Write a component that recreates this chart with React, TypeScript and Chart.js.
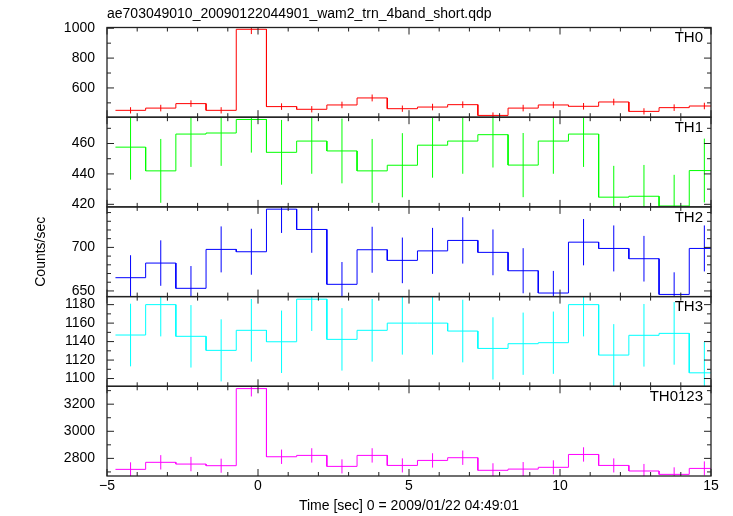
import React, { useEffect, useRef } from 'react';
import { Chart, registerables } from 'chart.js';

Chart.register(...registerables);

// ---- data ----
const titleText = 'ae703049010_20090122044901_wam2_trn_4band_short.qdp';
const xTitle = 'Time [sec] 0 = 2009/01/22 04:49:01';
const yTitle = 'Counts/sec';

const binTimes = [-4.22, -3.22, -2.22, -1.22, -0.22, 0.78, 1.78, 2.78, 3.78, 4.78, 5.78, 6.78, 7.78, 8.78, 9.78, 10.78, 11.78, 12.78, 13.78, 14.78];
const binHalfWidth = 0.5;

const th0 = [450, 465, 495, 450, 993, 475, 457, 486, 533, 461, 472, 488, 416, 465, 486, 477, 506, 443, 468, 479];
const th0Err = [21, 22, 22, 21, 32, 22, 21, 22, 23, 21, 22, 22, 20, 22, 22, 22, 22, 21, 22, 22];

const th1 = [457.6, 442, 466.2, 466.9, 475.8, 454.2, 461.6, 455.1, 442, 445.7, 458.9, 461.6, 465.8, 445.8, 461.6, 466.2, 424.7, 425.3, 418.9, 442.2];
const th1Err = [21.4, 21, 21.6, 21.6, 21.8, 21.3, 21.5, 21.3, 21, 21.1, 21.4, 21.5, 21.6, 21.1, 21.5, 21.6, 20.6, 20.6, 20.5, 21];

const th2 = [665.2, 682, 653, 697.7, 695, 743.9, 720.6, 657.6, 697.3, 685.1, 696, 708, 694.3, 673.2, 647.6, 706, 698.8, 687, 646, 698.8];
const th2Err = [25.8, 26.1, 25.6, 26.4, 26.4, 27.3, 26.8, 25.6, 26.4, 26.2, 26.4, 26.6, 26.3, 25.9, 25.4, 26.6, 26.4, 26.2, 25.4, 26.4];

const th3 = [1147.1, 1180, 1145.7, 1130.5, 1152.2, 1139.8, 1185.9, 1142.4, 1152.2, 1160, 1160, 1151.4, 1132.6, 1137.7, 1138.8, 1180, 1125.4, 1146.8, 1148.9, 1106.2];
const th3Err = [33.9, 34.4, 33.8, 33.6, 33.9, 33.8, 34.4, 33.8, 33.9, 34.1, 34.1, 33.9, 33.7, 33.7, 33.7, 34.4, 33.5, 33.9, 33.9, 33.3];

const th0123 = [2719, 2771, 2758, 2746, 3315, 2812, 2822, 2741, 2822, 2748, 2785, 2805, 2712, 2721, 2734, 2829, 2748, 2707, 2682, 2726];
const th0123Err = [52, 53, 53, 52, 58, 53, 53, 52, 53, 52, 53, 53, 52, 52, 52, 53, 52, 52, 52, 52];

const panelNames = ['TH0', 'TH1', 'TH2', 'TH3', 'TH0123'];
const panelValues = [th0, th1, th2, th3, th0123];
const panelErrors = [th0Err, th1Err, th2Err, th3Err, th0123Err];
const panelColors = ['#ff0000', '#00ff00', '#0000ff', '#00ffff', '#ff00ff'];

const yMins = [404, 418.3, 643.5, 1091.6, 2670];
const yMaxs = [1005, 477.3, 746.5, 1188.7, 3332];
const yTickLabels = [
  [600, 800, 1000],
  [420, 440, 460],
  [650, 700],
  [1100, 1120, 1140, 1160, 1180],
  [2800, 3000, 3200],
];
const yMinorSteps = [100, 10, 10, 10, 100];

const xMin = -5;
const xMax = 15;
const xMajorStep = 5;
const xMinorStep = 1;

// ---- styling ----
const FONT = "'Liberation Sans', Arial, Helvetica, sans-serif";
const FRAME = '#222222';
const MAJOR_LEN = 7;
const MINOR_LEN = 4;

const decorPlugin = {
  id: 'qdpDecor',
  beforeDatasetDraw(chart: any, args: any) {
    const meta = args.meta;
    const ys = meta.yScale;
    const { ctx, chartArea } = chart;
    ctx.save();
    ctx.beginPath();
    ctx.rect(chartArea.left, ys.top, chartArea.right - chartArea.left, ys.bottom - ys.top);
    ctx.clip();
  },
  afterDatasetDraw(chart: any) {
    chart.ctx.restore();
  },
  afterDatasetsDraw(chart: any) {
    const { ctx, chartArea } = chart;
    const xs = chart.scales.x;
    const left = chartArea.left;
    const right = chartArea.right;
    ctx.save();
    ctx.strokeStyle = FRAME;
    ctx.lineWidth = 1;
    const seg = (x1: number, y1: number, x2: number, y2: number) => {
      ctx.beginPath();
      ctx.moveTo(x1, y1);
      ctx.lineTo(x2, y2);
      ctx.stroke();
    };
    panelNames.forEach((name, i) => {
      const ys = chart.scales['y' + i];
      const top = ys.top;
      const bottom = ys.bottom;
      // x ticks (inward, top and bottom)
      for (let k = 0; xMin + k * xMinorStep <= xMax + 1e-9; k++) {
        const t = xMin + k * xMinorStep;
        const px = xs.getPixelForValue(t);
        const len = Math.abs(t % xMajorStep) < 1e-9 ? MAJOR_LEN : MINOR_LEN;
        seg(px, top, px, top + len);
        seg(px, bottom, px, bottom - len);
      }
      // y ticks (inward, left and right)
      const step = yMinorSteps[i];
      for (let v = Math.ceil(yMins[i] / step) * step; v <= yMaxs[i] + 1e-9; v += step) {
        const py = ys.getPixelForValue(v);
        const len = yTickLabels[i].includes(v) ? MAJOR_LEN : MINOR_LEN;
        seg(left, py, left + len, py);
        seg(right, py, right - len, py);
      }
      ctx.lineWidth = 1.3;
      ctx.strokeRect(left, top, right - left, bottom - top);
      ctx.lineWidth = 1;
      // panel label
      ctx.fillStyle = '#000';
      ctx.font = `15px ${FONT}`;
      ctx.textAlign = 'right';
      ctx.textBaseline = 'middle';
      ctx.fillText(name, right - 8, top + 10.5);
    });
    ctx.restore();
  },
};

export default function App() {
  const canvasRef = useRef<HTMLCanvasElement | null>(null);

  useEffect(() => {
    const canvas = canvasRef.current;
    if (!canvas) return;

    const datasets: any[] = [];
    panelValues.forEach((vals, i) => {
      const step: any[] = [];
      const err: any[] = [];
      vals.forEach((v, j) => {
        const c = binTimes[j];
        step.push({ x: c - binHalfWidth, y: v });
        step.push({ x: c + binHalfWidth, y: v });
        const e = panelErrors[i][j];
        err.push({ x: c, y: v - e });
        err.push({ x: c, y: v + e });
        err.push({ x: c, y: null });
      });
      datasets.push({
        label: panelNames[i],
        data: step,
        yAxisID: 'y' + i,
        borderColor: panelColors[i],
        borderWidth: 1,
        pointRadius: 0,
        fill: false,
        tension: 0,
      });
      datasets.push({
        label: panelNames[i] + ' err',
        data: err,
        yAxisID: 'y' + i,
        borderColor: panelColors[i],
        borderWidth: 1,
        pointRadius: 0,
        fill: false,
        tension: 0,
        spanGaps: false,
      });
    });

    const scales: any = {
      x: {
        type: 'linear',
        position: 'bottom',
        min: xMin,
        max: xMax,
        grid: { display: false, drawTicks: false },
        border: { display: false },
        ticks: {
          stepSize: xMajorStep,
          padding: 2,
          color: '#000',
          font: { family: FONT, size: 14 },
          maxRotation: 0,
          callback: (v: any) => (v < 0 ? '\u2212' + Math.abs(v) : String(v)),
        },
        title: {
          display: true,
          text: xTitle,
          color: '#000',
          font: { family: FONT, size: 14 },
          padding: { top: 0, bottom: 1 },
        },
        afterFit: (s: any) => {
          s.height = 40;
        },
      },
    };
    panelNames.forEach((name, i) => {
      scales['y' + i] = {
        type: 'linear',
        position: 'left',
        stack: 'panels',
        stackWeight: 1,
        weight: panelNames.length - i,
        min: yMins[i],
        max: yMaxs[i],
        grid: { display: false, drawTicks: false },
        border: { display: false },
        ticks: {
          padding: 12,
          color: '#000',
          font: { family: FONT, size: 14 },
          autoSkip: false,
          callback: (v: any) => String(v),
        },
        afterBuildTicks: (s: any) => {
          s.ticks = yTickLabels[i].map((v) => ({ value: v }));
        },
        title: {
          display: i === 2,
          text: yTitle,
          color: '#000',
          font: { family: FONT, size: 14 },
          padding: { top: 33, bottom: 0 },
        },
        afterFit: (s: any) => {
          s.width = 107;
        },
      };
    });

    const chart = new Chart(canvas, {
      type: 'line',
      data: { datasets },
      options: {
        responsive: false,
        animation: false,
        devicePixelRatio: 1,
        layout: { padding: { left: 0, right: 22, top: 0, bottom: 0 } },
        scales,
        plugins: {
          legend: { display: false },
          tooltip: { enabled: false },
          title: {
            display: true,
            text: titleText,
            align: 'start',
            fullSize: false,
            color: '#000',
            font: { family: FONT, size: 14, weight: 'normal' },
            padding: { top: 6, bottom: 4.7 },
          },
        },
      } as any,
      plugins: [decorPlugin],
    });
    return () => chart.destroy();
  }, []);

  return (
    <div style={{ position: 'fixed', left: 0, top: 0, width: 733, height: 516, background: '#ffffff' }}>
      <canvas ref={canvasRef} width={733} height={516} style={{ display: 'block' }} />
    </div>
  );
}
